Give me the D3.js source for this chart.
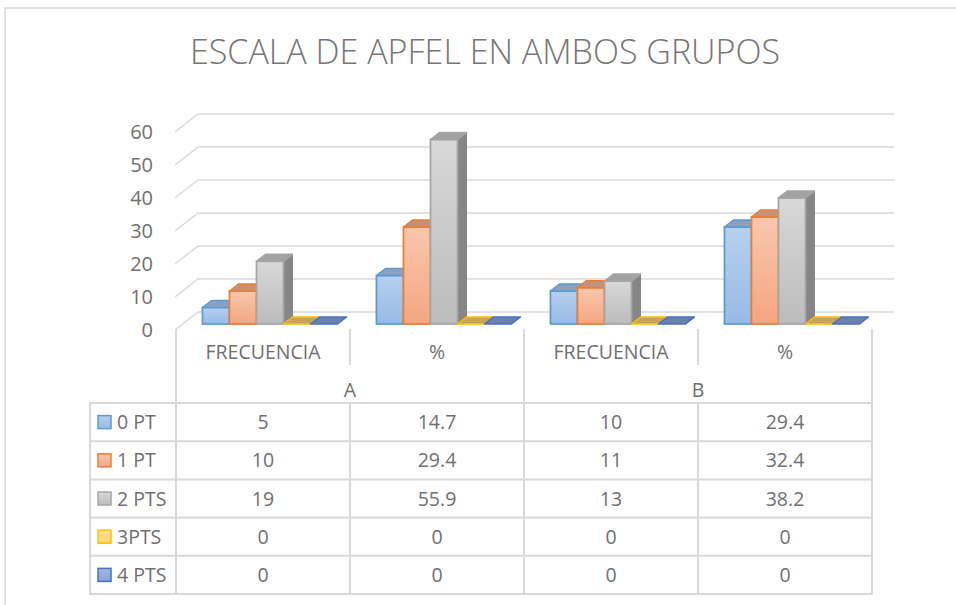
<!DOCTYPE html>
<html>
<head>
<meta charset="utf-8">
<script src="https://cdn.jsdelivr.net/npm/d3@7"></script>
<style>
	body { margin: 0; background: #fff; }
	text { font-family: "Open Sans", sans-serif; }
</style>
</head>
<body>
<svg id="chart" width="956" height="605"></svg>
<script>
	// Data
	var categories = ['FRECUENCIA', '%', 'FRECUENCIA', '%'];
	var groups = ['A', 'B'];
	var seriesNames = ['0 PT', '1 PT', '2 PTS', '3PTS', '4 PTS'];
	var pt0 = [5, 14.7, 10, 29.4];
	var pt1 = [10, 29.4, 11, 32.4];
	var pt2 = [19, 55.9, 13, 38.2];
	var pt3 = [0, 0, 0, 0];
	var pt4 = [0, 0, 0, 0];
	var yTicks = [0, 10, 20, 30, 40, 50, 60];

	var seriesValues = [pt0, pt1, pt2, pt3, pt4];

	// Office-like colours: outline, gradient top/bottom, lid and side
	var palette = [
		{ stroke: '#5b9bd5', top: '#b6d0ef', bottom: '#97bae5', lid: '#8aa2c0', side: '#7090b8' },
		{ stroke: '#ed7d31', top: '#f9c7ae', bottom: '#f4a681', lid: '#c4917a', side: '#c07a55' },
		{ stroke: '#a5a5a5', top: '#d8d8d8', bottom: '#bcbcbc', lid: '#a2a2a2', side: '#868686' },
		{ stroke: '#ffc000', top: '#ffe396', bottom: '#ffd766', lid: '#c6a65a', side: '#b8952f' },
		{ stroke: '#4472c4', top: '#a3b6de', bottom: '#8aa3d6', lid: '#6c80ad', side: '#50679a' }
	];

	var gridColor = '#d9d9d9',
		textColor = '#707070',
		tableFont = 19.5;

	// 3D offsets
	var floor = { dx: 22, dy: -18 },   // front plane -> back wall
		barShift = { dx: 7, dy: -6 },  // front plane -> bar front face
		barDepth = { dx: 9, dy: -7 };  // bar front face -> bar back face

	var svg = d3.select('#chart');

	// Scales
	var x0 = d3.scaleBand().domain(d3.range(categories.length)).range([176, 872]);
	var x1 = d3.scaleBand().domain(d3.range(seriesNames.length))
		.range([0, x0.bandwidth()]).paddingOuter(0.72);
	var y = d3.scaleLinear().domain([0, 60]).range([330, 132]);

	// Gradients for bar fronts and legend keys
	var defs = svg.append('defs');
	palette.forEach(function(p, i) {
		var g = defs.append('linearGradient').attr('id', 'grad' + i)
			.attr('x1', 0).attr('y1', 0).attr('x2', 0).attr('y2', 1);
		g.append('stop').attr('offset', '0%').attr('stop-color', p.top);
		g.append('stop').attr('offset', '100%').attr('stop-color', p.bottom);
	});

	// Chart area border
	svg.append('path')
		.attr('d', 'M5,605V8H956')
		.attr('fill', 'none').attr('stroke', gridColor).attr('stroke-width', 1.5);

	// Title
	svg.append('text')
		.attr('x', 485).attr('y', 52).attr('dy', '0.35em')
		.attr('text-anchor', 'middle')
		.attr('font-size', 35).attr('font-weight', 300)
		.attr('textLength', 590).attr('lengthAdjust', 'spacingAndGlyphs')
		.attr('fill', '#767676')
		.text('ESCALA DE APFEL EN AMBOS GRUPOS');

	// Gridlines: side wall diagonal + back wall
	var left = x0.range()[0], right = x0.range()[1];
	svg.append('g').selectAll('path')
		.data(yTicks)
		.enter().append('path')
			.attr('d', function(d) {
				return 'M' + (left - 1) + ',' + y(d) +
					'L' + (left + floor.dx) + ',' + (y(d) + floor.dy) +
					'H' + (right + floor.dx);
			})
			.attr('fill', 'none').attr('stroke', gridColor).attr('stroke-width', 1.5);

	// Y axis labels
	svg.append('g').selectAll('text')
		.data(yTicks)
		.enter().append('text')
			.attr('x', 153).attr('y', function(d) { return y(d); })
			.attr('dy', '0.36em')
			.attr('text-anchor', 'end')
			.attr('font-size', 20).attr('fill', textColor)
			.text(function(d) { return d; });

	// Bars
	var base = y(0) + barShift.dy;
	var bw = x1.bandwidth();
	var bars = svg.append('g');
	categories.forEach(function(c, ci) {
		seriesValues.forEach(function(vals, si) {
			var v = vals[ci],
				p = palette[si],
				xf = x0(ci) + x1(si) + barShift.dx,
				yt = y(v) + barShift.dy,
				g = bars.append('g');
			if (v > 0) {
				// side
				g.append('path')
					.attr('d', 'M' + (xf + bw) + ',' + yt +
						'L' + (xf + bw + barDepth.dx) + ',' + (yt + barDepth.dy) +
						'L' + (xf + bw + barDepth.dx) + ',' + (base + barDepth.dy) +
						'L' + (xf + bw) + ',' + base + 'Z')
					.attr('fill', p.side).attr('stroke', p.side).attr('stroke-width', 1);
				// front
				g.append('rect')
					.attr('x', xf).attr('y', yt)
					.attr('width', bw).attr('height', base - yt)
					.attr('fill', 'url(#grad' + si + ')')
					.attr('stroke', p.stroke).attr('stroke-width', 1.75);
			}
			// lid
			g.append('path')
				.attr('d', 'M' + xf + ',' + yt +
					'L' + (xf + barDepth.dx) + ',' + (yt + barDepth.dy) +
					'H' + (xf + bw + barDepth.dx) +
					'L' + (xf + bw) + ',' + yt + 'Z')
				.attr('fill', p.lid).attr('stroke', p.stroke).attr('stroke-width', 1.5)
				.attr('stroke-linejoin', 'round');
		});
	});

	// Data table under the chart
	var rowTop = 403, rowH = 38.2, legendLeft = 90;
	var table = svg.append('g')
		.attr('stroke', gridColor).attr('stroke-width', 2).attr('fill', 'none');
	var colEdges = d3.range(categories.length + 1).map(function(i) {
		return i < categories.length ? x0(i) : right;
	});
	var tableBottom = rowTop + rowH * seriesNames.length;
	colEdges.forEach(function(cx, i) {
		// inner separators of each group stop at the category row
		if (i === 1 || i === 3) {
			table.append('line').attr('x1', cx).attr('x2', cx).attr('y1', 329).attr('y2', 365);
			table.append('line').attr('x1', cx).attr('x2', cx).attr('y1', rowTop).attr('y2', tableBottom);
		} else {
			table.append('line').attr('x1', cx).attr('x2', cx).attr('y1', 329).attr('y2', tableBottom);
		}
	});
	table.append('line').attr('x1', legendLeft).attr('x2', legendLeft)
		.attr('y1', rowTop).attr('y2', tableBottom);
	d3.range(seriesNames.length + 1).forEach(function(r) {
		table.append('line')
			.attr('x1', legendLeft - 1).attr('x2', right + 1)
			.attr('y1', rowTop + r * rowH).attr('y2', rowTop + r * rowH);
	});

	// Category labels
	svg.append('g').selectAll('text')
		.data(categories)
		.enter().append('text')
			.attr('x', function(d, i) { return x0(i) + x0.bandwidth() / 2; })
			.attr('y', 352).attr('dy', '0.36em')
			.attr('text-anchor', 'middle')
			.attr('font-size', tableFont).attr('fill', textColor)
			.text(function(d) { return d; });

	// Group labels
	svg.append('g').selectAll('text')
		.data(groups)
		.enter().append('text')
			.attr('x', function(d, i) { return x0(i * 2) + x0.bandwidth(); })
			.attr('y', 390).attr('dy', '0.36em')
			.attr('text-anchor', 'middle')
			.attr('font-size', tableFont).attr('fill', textColor)
			.text(function(d) { return d; });

	// Legend + values rows
	var rows = svg.append('g').selectAll('g')
		.data(seriesNames)
		.enter().append('g')
			.attr('transform', function(d, i) { return 'translate(0,' + (rowTop + rowH * (i + 0.5)) + ')'; });

	rows.append('rect')
		.attr('x', 98).attr('y', -6.5).attr('width', 13).attr('height', 13)
		.attr('fill', function(d, i) { return 'url(#grad' + i + ')'; })
		.attr('stroke', function(d, i) { return palette[i].stroke; })
		.attr('stroke-width', 1.5);

	rows.append('text')
		.attr('x', 117).attr('dy', '0.36em')
		.attr('font-size', tableFont).attr('fill', textColor)
		.text(function(d) { return d; });

	rows.each(function(d, si) {
		d3.select(this).selectAll('text.val')
			.data(seriesValues[si])
			.enter().append('text')
				.attr('class', 'val')
				.attr('x', function(v, ci) { return x0(ci) + x0.bandwidth() / 2; })
				.attr('dy', '0.36em')
				.attr('text-anchor', 'middle')
				.attr('font-size', tableFont).attr('fill', textColor)
				.text(function(v) { return v; });
	});
</script>
</body>
</html>
